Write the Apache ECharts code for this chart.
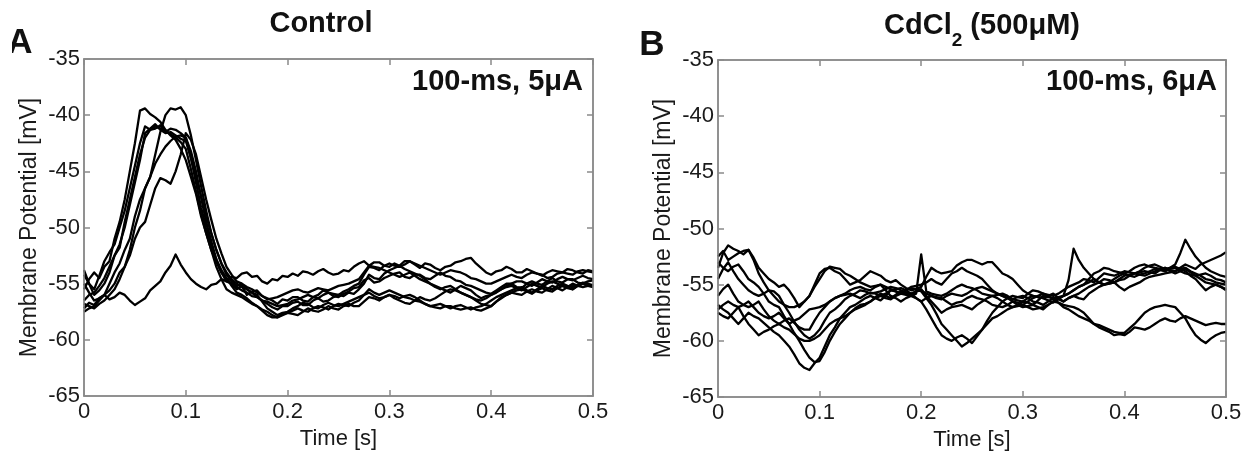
<!DOCTYPE html>
<html>
<head>
<meta charset="utf-8">
<script src="https://cdn.jsdelivr.net/npm/echarts@6/dist/echarts.min.js"></script>
<style>
html,body{margin:0;padding:0;background:#fff;}
#chart{width:1260px;height:458px;}
</style>
</head>
<body>
<div id="chart"></div>
<script>
// ---- Data ----
const TIME = [0,0.005,0.01,0.015,0.02,0.025,0.03,0.035,0.04,0.045,
  0.05,0.055,0.06,0.065,0.07,0.075,0.08,0.085,0.09,0.095,
  0.1,0.105,0.11,0.115,0.12,0.125,0.13,0.135,0.14,0.145,
  0.15,0.155,0.16,0.165,0.17,0.175,0.18,0.185,0.19,0.195,
  0.2,0.205,0.21,0.215,0.22,0.225,0.23,0.235,0.24,0.245,
  0.25,0.255,0.26,0.265,0.27,0.275,0.28,0.285,0.29,0.295,
  0.3,0.305,0.31,0.315,0.32,0.325,0.33,0.335,0.34,0.345,
  0.35,0.355,0.36,0.365,0.37,0.375,0.38,0.385,0.39,0.395,
  0.4,0.405,0.41,0.415,0.42,0.425,0.43,0.435,0.44,0.445,
  0.45,0.455,0.46,0.465,0.47,0.475,0.48,0.485,0.49,0.495,0.5];
const X_TICKS = [0, 0.1, 0.2, 0.3, 0.4, 0.5];
const Y_TICKS = [-65, -60, -55, -50, -45, -40, -35];

// Panel A: Control (membrane potential, mV)
const A_trace1 = [-57.2,-56.7,-56.9,-56.3,-56.0,-56.4,-56.2,-55.8,-56.0,-56.5,
  -56.9,-56.6,-56.3,-55.6,-55.2,-54.8,-54.0,-53.4,-52.4,-53.3,
  -54.0,-54.6,-55.0,-55.3,-55.5,-55.1,-55.0,-54.6,-54.8,-54.4,
  -54.5,-54.1,-54.0,-54.4,-54.3,-54.8,-55.0,-54.6,-54.7,-54.3,
  -54.4,-54.1,-54.3,-53.9,-54.0,-54.2,-53.9,-53.7,-54.0,-54.2,
  -54.1,-53.8,-53.9,-53.5,-53.2,-53.0,-53.4,-53.1,-53.1,-53.4,
  -53.5,-53.2,-53.4,-53.0,-53.0,-53.3,-53.6,-53.2,-53.3,-53.6,
  -53.8,-53.5,-53.4,-53.1,-53.0,-52.8,-52.7,-53.2,-53.6,-54.0,
  -54.2,-53.9,-53.8,-53.5,-53.7,-54.0,-54.0,-53.7,-53.9,-54.1,
  -54.2,-54.5,-54.4,-54.1,-54.0,-53.7,-53.8,-54.0,-54.1,-53.8,-53.9];
const A_trace2 = [-55.5,-54.6,-54.0,-54.5,-53.5,-53.0,-51.0,-49.5,-47.5,-45.0,
  -42.5,-39.6,-39.4,-39.9,-40.2,-40.6,-41.3,-41.8,-42.2,-43.0,
  -44.0,-45.5,-47.0,-49.0,-50.5,-52.0,-53.0,-54.0,-54.6,-55.0,
  -55.5,-55.2,-56.0,-55.7,-55.6,-56.1,-56.3,-56.5,-56.8,-56.4,
  -56.5,-56.2,-56.2,-56.5,-56.6,-56.2,-56.0,-55.6,-55.8,-56.1,
  -56.2,-55.9,-55.7,-55.4,-55.3,-54.7,-54.5,-54.9,-54.8,-54.5,
  -54.3,-54.1,-54.0,-54.4,-54.5,-54.2,-54.2,-54.5,-54.6,-54.3,
  -54.0,-54.3,-54.4,-54.7,-54.8,-55.1,-55.2,-55.4,-55.6,-55.8,
  -55.9,-55.6,-55.3,-55.0,-55.0,-55.3,-55.4,-55.0,-54.8,-55.0,
  -55.1,-54.8,-54.5,-54.8,-54.9,-54.6,-54.6,-54.9,-55.0,-54.8,-54.7];
const A_trace3 = [-54.2,-55.0,-55.5,-54.3,-53.0,-52.2,-51.5,-50.0,-48.5,-46.5,
  -44.5,-42.5,-41.0,-41.3,-41.2,-40.9,-41.5,-41.2,-41.3,-41.6,
  -42.0,-43.8,-46.0,-48.2,-50.0,-51.6,-53.0,-54.0,-54.8,-55.0,
  -55.3,-55.6,-55.8,-56.1,-56.2,-56.5,-56.8,-57.1,-57.3,-57.0,
  -57.0,-56.7,-56.6,-56.9,-56.9,-56.5,-56.3,-56.6,-56.5,-56.2,
  -56.0,-56.1,-55.8,-55.9,-55.5,-55.0,-54.2,-54.5,-54.6,-54.1,
  -53.8,-53.6,-53.4,-53.7,-53.9,-54.1,-54.3,-54.6,-55.0,-55.2,
  -55.4,-55.6,-55.8,-55.5,-55.2,-55.4,-55.6,-56.0,-56.3,-56.1,
  -56.0,-55.7,-55.5,-55.3,-55.2,-55.4,-55.6,-55.3,-55.0,-55.2,
  -55.3,-55.0,-54.8,-55.0,-55.2,-55.4,-55.5,-55.2,-55.0,-55.2,-55.3];
const A_trace4 = [-56.5,-56.0,-55.8,-55.2,-54.5,-53.5,-52.5,-51.5,-50.0,-48.0,
  -46.0,-44.0,-41.6,-41.2,-40.8,-41.3,-41.6,-41.5,-41.8,-42.1,
  -42.3,-43.8,-45.5,-47.2,-49.0,-50.5,-52.0,-53.2,-54.2,-54.8,
  -55.2,-55.0,-55.5,-55.8,-56.0,-56.6,-57.2,-57.5,-57.8,-57.6,
  -57.5,-57.2,-57.0,-56.7,-56.8,-57.1,-57.2,-56.9,-56.7,-56.9,
  -57.0,-56.8,-56.6,-56.4,-56.2,-56.0,-55.8,-56.1,-56.3,-56.2,
  -56.0,-56.3,-56.5,-56.7,-56.8,-56.5,-56.2,-56.4,-56.5,-56.3,
  -56.0,-55.7,-55.5,-55.6,-55.8,-56.0,-56.2,-56.5,-56.8,-56.9,
  -57.0,-56.6,-56.3,-56.0,-55.8,-55.6,-55.5,-55.7,-55.9,-55.6,
  -55.4,-55.6,-55.7,-55.4,-55.2,-55.3,-55.5,-55.2,-55.0,-55.1,-55.2];
const A_trace5 = [-53.8,-55.0,-56.0,-55.6,-55.0,-54.0,-52.5,-51.8,-49.5,-47.5,
  -45.5,-43.5,-42.0,-41.3,-41.0,-41.2,-41.4,-41.7,-42.0,-42.4,
  -43.0,-44.8,-46.8,-48.8,-50.5,-52.0,-53.5,-54.6,-55.5,-55.8,
  -56.0,-56.2,-56.5,-56.8,-57.0,-57.3,-57.5,-57.8,-58.0,-57.7,
  -57.6,-57.4,-57.2,-57.4,-57.5,-57.2,-57.0,-57.1,-57.3,-57.0,
  -56.8,-56.9,-57.0,-56.7,-56.5,-56.0,-55.5,-55.8,-56.0,-55.8,
  -55.6,-55.8,-56.0,-56.2,-56.3,-56.5,-56.6,-56.8,-57.0,-57.1,
  -57.2,-57.0,-57.0,-57.2,-57.3,-57.2,-57.1,-57.3,-57.4,-57.2,
  -57.0,-56.6,-56.2,-56.0,-55.8,-55.9,-56.0,-55.7,-55.5,-55.7,
  -55.8,-55.5,-55.2,-55.4,-55.6,-55.3,-55.0,-55.2,-55.3,-55.2,-55.1];
const A_trace6 = [-57.5,-57.2,-57.0,-56.5,-56.0,-55.6,-55.0,-54.0,-53.5,-52.0,
  -50.0,-48.5,-46.5,-45.5,-43.5,-41.5,-40.0,-39.4,-39.5,-39.3,
  -40.0,-41.8,-44.0,-46.3,-48.5,-50.5,-52.0,-53.2,-54.0,-54.6,
  -55.0,-55.3,-55.5,-55.8,-56.2,-56.5,-56.6,-56.8,-57.0,-56.9,
  -56.8,-56.5,-56.4,-56.2,-56.0,-56.2,-56.3,-56.0,-55.8,-55.9,
  -56.0,-55.7,-55.5,-55.2,-55.0,-54.2,-53.5,-53.6,-53.8,-53.4,
  -53.2,-53.4,-53.5,-53.3,-53.0,-53.2,-53.4,-53.6,-53.8,-54.0,
  -54.2,-54.0,-53.8,-53.9,-54.0,-54.2,-54.5,-54.6,-54.8,-55.0,
  -55.0,-54.8,-54.6,-54.4,-54.2,-54.4,-54.5,-54.2,-54.0,-54.1,
  -54.3,-54.0,-53.8,-53.9,-54.0,-54.1,-54.2,-53.9,-53.8,-53.9,-54.0];
const A_trace7 = [-56.8,-57.0,-57.2,-56.8,-56.5,-56.0,-55.5,-54.6,-53.5,-52.5,
  -51.0,-50.0,-49.5,-48.0,-46.5,-45.6,-45.8,-46.1,-45.0,-43.5,
  -41.6,-42.2,-43.5,-45.5,-47.5,-49.3,-51.0,-52.3,-53.5,-54.2,
  -54.8,-55.0,-55.3,-55.5,-55.8,-56.1,-56.4,-56.3,-56.2,-56.0,
  -55.8,-55.6,-55.5,-55.7,-55.8,-55.6,-55.4,-55.5,-55.6,-55.4,
  -55.2,-55.1,-55.0,-54.8,-54.6,-54.0,-53.4,-53.5,-53.6,-53.8,
  -54.0,-54.2,-54.4,-54.2,-54.0,-54.3,-54.6,-54.8,-55.0,-55.3,
  -55.5,-55.3,-55.2,-55.5,-55.8,-56.0,-56.2,-56.4,-56.5,-56.3,
  -56.0,-55.8,-55.5,-55.2,-55.0,-54.8,-54.8,-55.0,-55.2,-54.9,
  -54.6,-54.8,-54.9,-54.6,-54.4,-54.6,-54.7,-54.5,-54.3,-54.5,-54.6];
const A_trace8 = [-55.0,-55.8,-56.5,-56.3,-56.0,-55.0,-54.0,-53.2,-52.0,-51.0,
  -49.0,-47.5,-46.5,-45.5,-44.3,-43.5,-42.8,-42.3,-41.9,-41.8,
  -42.0,-43.2,-45.0,-47.3,-49.5,-51.2,-52.8,-53.8,-54.5,-55.2,
  -55.8,-56.0,-56.3,-56.7,-57.0,-57.4,-57.8,-58.0,-58.0,-57.8,
  -57.6,-57.7,-57.8,-57.5,-57.2,-57.4,-57.5,-57.3,-57.0,-57.2,
  -57.3,-57.0,-56.8,-57.0,-57.0,-56.6,-56.2,-56.3,-56.5,-56.2,
  -56.0,-56.1,-56.3,-56.1,-56.0,-56.2,-56.5,-56.8,-57.0,-56.9,
  -56.8,-57.0,-57.2,-57.0,-56.9,-57.1,-57.3,-57.1,-57.0,-56.8,
  -56.5,-56.2,-56.0,-55.8,-55.6,-55.4,-55.3,-55.6,-55.8,-55.5,
  -55.2,-55.4,-55.5,-55.2,-55.0,-55.2,-55.3,-55.1,-54.9,-55.0,-55.2];

// Panel B: CdCl2 (500 uM) (membrane potential, mV)
const B_trace1 = [-53.5,-52.2,-51.5,-51.8,-52.0,-52.3,-51.9,-52.6,-53.5,-54.0,
  -54.5,-54.8,-55.2,-55.0,-55.5,-56.2,-57.0,-56.5,-56.0,-55.0,
  -54.0,-53.6,-53.5,-53.8,-54.0,-54.5,-55.0,-54.8,-54.6,-54.2,
  -53.8,-54.0,-54.2,-54.6,-54.8,-54.6,-55.0,-55.3,-55.5,-55.4,
  -55.2,-54.3,-53.5,-53.8,-54.0,-53.9,-53.8,-53.3,-53.0,-52.8,
  -52.8,-53.0,-53.2,-53.0,-53.0,-53.5,-54.0,-54.2,-54.5,-55.0,
  -55.5,-55.8,-56.0,-56.1,-56.2,-56.0,-55.8,-56.2,-56.5,-56.2,
  -56.0,-56.2,-56.3,-55.8,-55.5,-55.2,-55.0,-54.9,-54.8,-54.6,
  -54.5,-54.2,-54.0,-54.1,-54.2,-54.0,-53.8,-53.6,-53.5,-53.7,
  -53.8,-53.5,-53.2,-53.4,-53.6,-53.2,-53.0,-52.8,-52.6,-52.4,-52.1];
const B_trace2 = [-52.5,-52.0,-52.8,-52.5,-52.2,-52.0,-51.9,-52.8,-54.0,-54.8,
  -55.5,-55.6,-56.0,-56.8,-57.5,-58.3,-59.0,-59.5,-59.8,-59.5,
  -59.0,-58.2,-57.5,-57.2,-56.8,-56.3,-56.0,-55.8,-55.5,-55.6,
  -55.8,-55.7,-55.6,-55.4,-55.2,-55.3,-55.5,-55.7,-55.8,-55.6,
  -55.5,-55.8,-56.0,-56.2,-56.3,-56.0,-55.8,-55.9,-56.0,-55.8,
  -55.5,-55.3,-55.2,-55.4,-55.6,-55.8,-56.0,-56.2,-56.3,-56.4,
  -56.5,-56.2,-56.0,-56.1,-56.2,-56.4,-56.6,-56.3,-56.0,-54.6,
  -51.8,-52.8,-53.5,-54.0,-54.5,-54.8,-55.0,-54.9,-54.8,-55.2,
  -55.5,-55.2,-55.0,-54.8,-54.5,-54.3,-54.2,-54.1,-54.0,-53.9,
  -53.8,-53.6,-53.5,-53.8,-54.0,-54.2,-54.5,-54.6,-54.8,-54.9,-55.0];
const B_trace3 = [-53.0,-53.5,-53.8,-53.4,-53.2,-53.8,-54.5,-54.8,-55.2,-55.8,
  -56.5,-56.8,-57.0,-57.8,-58.5,-59.3,-60.0,-60.8,-61.5,-61.9,
  -61.8,-61.0,-60.0,-59.2,-58.5,-58.0,-57.5,-57.1,-56.8,-56.7,
  -56.5,-56.1,-55.8,-56.0,-56.2,-55.9,-55.6,-55.8,-55.9,-55.6,
  -55.4,-56.0,-56.5,-57.0,-57.5,-57.2,-57.0,-56.9,-56.8,-57.0,
  -57.2,-56.8,-56.5,-56.2,-56.0,-55.9,-55.8,-56.0,-56.3,-56.1,
  -56.0,-56.2,-56.5,-56.6,-56.8,-56.5,-56.2,-56.3,-56.5,-56.2,
  -56.0,-55.8,-55.5,-55.2,-55.0,-54.8,-54.5,-54.6,-54.8,-54.5,
  -54.2,-54.1,-54.0,-53.9,-53.8,-53.9,-54.0,-53.7,-53.5,-53.8,
  -54.0,-53.8,-53.6,-53.9,-54.2,-54.5,-54.8,-54.9,-55.0,-55.2,-55.4];
const B_trace4 = [-56.8,-57.2,-57.5,-58.0,-58.5,-58.0,-57.5,-57.8,-58.0,-58.4,
  -58.8,-59.2,-59.5,-60.0,-60.5,-61.2,-62.0,-62.4,-62.6,-62.0,
  -61.5,-60.5,-59.5,-58.8,-58.0,-57.8,-57.5,-57.2,-57.0,-56.8,
  -56.5,-56.2,-56.0,-56.2,-56.3,-56.0,-55.8,-55.9,-56.0,-56.2,
  -56.5,-57.2,-58.0,-58.8,-59.5,-59.8,-60.0,-59.7,-59.5,-59.8,
  -60.2,-59.6,-59.0,-58.5,-58.0,-57.8,-57.5,-57.2,-57.0,-56.9,
  -56.8,-57.0,-57.2,-57.1,-57.0,-56.8,-56.5,-56.6,-56.8,-56.9,
  -57.0,-57.2,-57.5,-58.0,-58.5,-58.8,-59.0,-59.2,-59.5,-59.4,
  -59.5,-59.2,-58.8,-58.9,-59.0,-58.8,-58.5,-58.2,-58.0,-58.2,
  -58.3,-58.0,-57.8,-58.0,-58.2,-58.4,-58.6,-58.5,-58.4,-58.5,-58.5];
const B_trace5 = [-57.2,-56.8,-56.5,-56.8,-57.0,-57.8,-58.5,-59.0,-59.5,-59.2,
  -59.0,-58.7,-58.5,-58.8,-59.0,-59.4,-59.8,-60.0,-60.0,-59.8,
  -59.5,-59.0,-58.5,-58.2,-58.0,-57.5,-57.0,-56.8,-56.5,-56.2,
  -56.0,-56.2,-56.4,-56.0,-55.5,-55.6,-55.8,-55.5,-55.3,-55.4,
  -55.6,-56.2,-56.8,-57.6,-58.5,-59.0,-59.5,-60.0,-60.5,-60.2,
  -59.8,-59.4,-59.0,-58.2,-57.5,-57.0,-56.5,-56.2,-56.0,-56.1,
  -56.2,-55.8,-55.5,-55.6,-55.8,-56.0,-56.3,-56.6,-57.0,-57.2,
  -57.5,-57.8,-58.0,-58.2,-58.5,-58.6,-58.8,-59.0,-59.2,-59.3,
  -59.3,-58.9,-58.5,-58.0,-57.5,-57.2,-57.0,-56.9,-56.8,-56.9,
  -57.0,-57.5,-58.0,-58.8,-59.5,-59.9,-60.2,-59.8,-59.5,-59.3,-59.2];
const B_trace6 = [-56.0,-55.4,-55.0,-55.8,-56.5,-56.8,-57.0,-56.8,-56.5,-57.2,
  -57.8,-58.2,-58.5,-58.2,-58.0,-58.4,-58.8,-59.0,-59.0,-58.2,
  -57.5,-57.0,-56.5,-56.2,-56.0,-55.8,-55.5,-55.3,-55.2,-55.4,
  -55.5,-55.2,-55.0,-55.2,-55.4,-55.6,-55.8,-55.5,-55.2,-55.1,
  -55.0,-54.8,-54.5,-54.8,-55.0,-54.5,-54.0,-53.8,-53.5,-53.8,
  -54.0,-54.2,-54.5,-55.0,-55.5,-55.8,-56.0,-56.2,-56.5,-56.8,
  -57.0,-56.9,-56.8,-57.0,-57.2,-56.8,-56.5,-56.2,-56.0,-55.8,
  -55.5,-55.2,-55.0,-54.5,-54.0,-53.8,-53.5,-53.6,-53.8,-53.9,
  -54.0,-53.8,-53.5,-53.3,-53.2,-53.4,-53.5,-53.6,-53.8,-53.5,
  -53.2,-52.2,-51.0,-51.8,-52.5,-53.0,-53.5,-53.8,-54.0,-54.2,-54.3];
const B_trace7 = [-57.5,-57.8,-58.0,-57.5,-57.0,-56.8,-56.5,-57.0,-57.5,-57.8,
  -58.0,-57.8,-57.5,-58.0,-58.5,-58.2,-58.0,-57.6,-57.2,-57.1,
  -57.0,-56.8,-56.5,-56.2,-56.0,-55.9,-55.8,-56.0,-56.2,-55.9,
  -55.7,-55.8,-56.0,-55.8,-55.5,-55.4,-55.3,-55.5,-55.8,-56.2,
  -56.5,-56.2,-56.0,-56.1,-56.2,-56.5,-56.8,-56.6,-56.5,-56.2,
  -56.0,-56.2,-56.3,-56.5,-56.8,-56.9,-57.0,-56.8,-56.5,-56.6,
  -56.8,-56.5,-56.2,-56.0,-55.8,-55.9,-56.0,-55.8,-55.5,-55.2,
  -55.0,-54.8,-54.5,-54.6,-54.8,-54.4,-54.0,-54.1,-54.2,-54.0,
  -53.8,-53.9,-54.0,-53.8,-53.5,-53.3,-53.2,-53.4,-53.6,-53.5,
  -53.4,-53.6,-53.8,-54.2,-54.5,-55.0,-55.5,-55.2,-55.0,-55.2,-55.5];
const B_trace8 = [-54.5,-53.6,-53.0,-53.8,-54.5,-55.0,-55.5,-55.8,-56.0,-55.8,
  -55.5,-56.0,-56.5,-56.8,-57.0,-57.0,-56.8,-56.5,-56.0,-55.2,
  -54.5,-53.8,-53.4,-53.5,-53.6,-54.0,-54.2,-54.5,-54.8,-55.0,
  -55.2,-55.1,-55.0,-55.5,-56.0,-56.2,-56.5,-56.2,-56.0,-55.8,
  -52.3,-55.6,-55.8,-55.9,-56.0,-55.8,-55.5,-55.2,-55.0,-55.2,
  -55.3,-55.5,-55.8,-55.9,-56.0,-56.2,-56.5,-56.8,-57.0,-56.8,
  -56.5,-56.6,-56.8,-56.4,-56.0,-56.1,-56.2,-56.1,-56.0,-55.8,
  -55.5,-55.2,-55.0,-54.8,-54.5,-54.8,-55.0,-54.8,-54.5,-54.2,
  -54.0,-54.2,-54.3,-54.1,-54.0,-53.8,-53.6,-53.7,-53.8,-53.6,
  -53.5,-53.8,-54.0,-54.1,-54.2,-54.1,-54.0,-54.2,-54.5,-54.6,-54.8];

const A_TRACES = [A_trace1, A_trace2, A_trace3, A_trace4, A_trace5, A_trace6, A_trace7, A_trace8];
const B_TRACES = [B_trace1, B_trace2, B_trace3, B_trace4, B_trace5, B_trace6, B_trace7, B_trace8];

// ---- Chart ----
const FONT = "'Liberation Sans', Arial, Helvetica, sans-serif";
const FRAME = '#8a8a8a';
const chart = echarts.init(document.getElementById('chart'), null, {renderer: 'canvas'});

const grids = [
  {left: 84, top: 59, width: 509, height: 337},
  {left: 718, top: 60, width: 508, height: 337}
];

function fmtX(v) { return Math.abs(v) < 1e-9 ? '0' : String(+v.toFixed(1)); }

const xAxes = [], yAxes = [];
grids.forEach((g, i) => {
  xAxes.push({
    type: 'value', gridIndex: i, min: X_TICKS[0], max: X_TICKS[X_TICKS.length - 1], interval: 0.1,
    position: 'bottom',
    axisLine: {show: true, onZero: false, lineStyle: {color: FRAME, width: 1.5}},
    axisTick: {show: true, inside: true, length: 6, lineStyle: {color: FRAME, width: 1.5}},
    splitLine: {show: false},
    axisLabel: {color: '#1a1a1a', fontSize: 22, fontFamily: FONT, margin: 5, formatter: fmtX},
    name: 'Time [s]', nameLocation: 'middle', nameGap: 30,
    nameTextStyle: {color: '#1a1a1a', fontSize: 22, fontFamily: FONT}
  });
  xAxes.push({
    type: 'value', gridIndex: i, min: X_TICKS[0], max: X_TICKS[X_TICKS.length - 1], interval: 0.1,
    position: 'top',
    axisLine: {show: true, onZero: false, lineStyle: {color: FRAME, width: 1.5}},
    axisTick: {show: true, inside: true, length: 6, lineStyle: {color: FRAME, width: 1.5}},
    splitLine: {show: false}, axisLabel: {show: false}
  });
  yAxes.push({
    type: 'value', gridIndex: i, min: Y_TICKS[0], max: Y_TICKS[Y_TICKS.length - 1], interval: 5,
    position: 'left',
    axisLine: {show: true, onZero: false, lineStyle: {color: FRAME, width: 1.5}},
    axisTick: {show: true, inside: true, length: 6, lineStyle: {color: FRAME, width: 1.5}},
    splitLine: {show: false},
    axisLabel: {color: '#1a1a1a', fontSize: 22, fontFamily: FONT, margin: 4},
    name: 'Membrane Potential [mV]', nameLocation: 'middle', nameGap: 43, nameRotate: 90,
    nameTextStyle: {color: '#1a1a1a', fontSize: 23, fontFamily: FONT}
  });
  yAxes.push({
    type: 'value', gridIndex: i, min: Y_TICKS[0], max: Y_TICKS[Y_TICKS.length - 1], interval: 5,
    position: 'right',
    axisLine: {show: true, onZero: false, lineStyle: {color: FRAME, width: 1.5}},
    axisTick: {show: true, inside: true, length: 6, lineStyle: {color: FRAME, width: 1.5}},
    splitLine: {show: false}, axisLabel: {show: false}
  });
});

const series = [];
function addTraces(traces, panel) {
  traces.forEach((tr, k) => {
    series.push({
      type: 'line', name: (panel === 0 ? 'A' : 'B') + (k + 1),
      xAxisIndex: panel * 2, yAxisIndex: panel * 2,
      data: TIME.map((t, j) => [t, tr[j]]),
      showSymbol: false, symbol: 'none', silent: true, animation: false,
      lineStyle: {color: '#000', width: 2.3, join: 'round'},
      clip: true
    });
  });
}
addTraces(A_TRACES, 0);
addTraces(B_TRACES, 1);

const boldText = (text, x, y, size, align) => ({
  type: 'text', x: x, y: y, silent: true,
  style: {text: text, fontSize: size, fontWeight: 'bold', fontFamily: FONT, fill: '#111',
    textAlign: align || 'center', textVerticalAlign: 'middle'}
});

chart.setOption({
  animation: false,
  backgroundColor: '#fff',
  grid: grids,
  xAxis: xAxes,
  yAxis: yAxes,
  series: series,
  graphic: [
    boldText('Control', 321, 24, 29, 'center'),
    {
      type: 'text', x: 982, y: 24, silent: true,
      style: {
        text: '{a|CdCl}{s|2}{a| (500μM)}',
        textAlign: 'center', textVerticalAlign: 'middle',
        rich: {
          a: {fontSize: 29, fontWeight: 'bold', fontFamily: FONT, fill: '#111', lineHeight: 32, verticalAlign: 'bottom'},
          s: {fontSize: 19, fontWeight: 'bold', fontFamily: FONT, fill: '#111', lineHeight: 32, verticalAlign: 'bottom', padding: [0, 0, -10, 0]}
        }
      }
    },
    boldText('A', 20, 43, 35, 'center'),
    {type: 'rect', shape: {x: 0, y: 20, width: 12, height: 45}, style: {fill: '#fff'}, silent: true, z: 20},
    boldText('B', 652, 45, 35, 'center'),
    boldText('100-ms, 5μA', 583, 82, 29, 'right'),
    boldText('100-ms, 6μA', 1217, 82, 29, 'right'),
    {type: 'rect', shape: {x: 84, y: 59, width: 509, height: 337}, style: {fill: 'none', stroke: FRAME, lineWidth: 1.5}, silent: true, z: 10},
    {type: 'rect', shape: {x: 718, y: 60, width: 508, height: 337}, style: {fill: 'none', stroke: FRAME, lineWidth: 1.5}, silent: true, z: 10}
  ]
});
</script>
</body>
</html>
